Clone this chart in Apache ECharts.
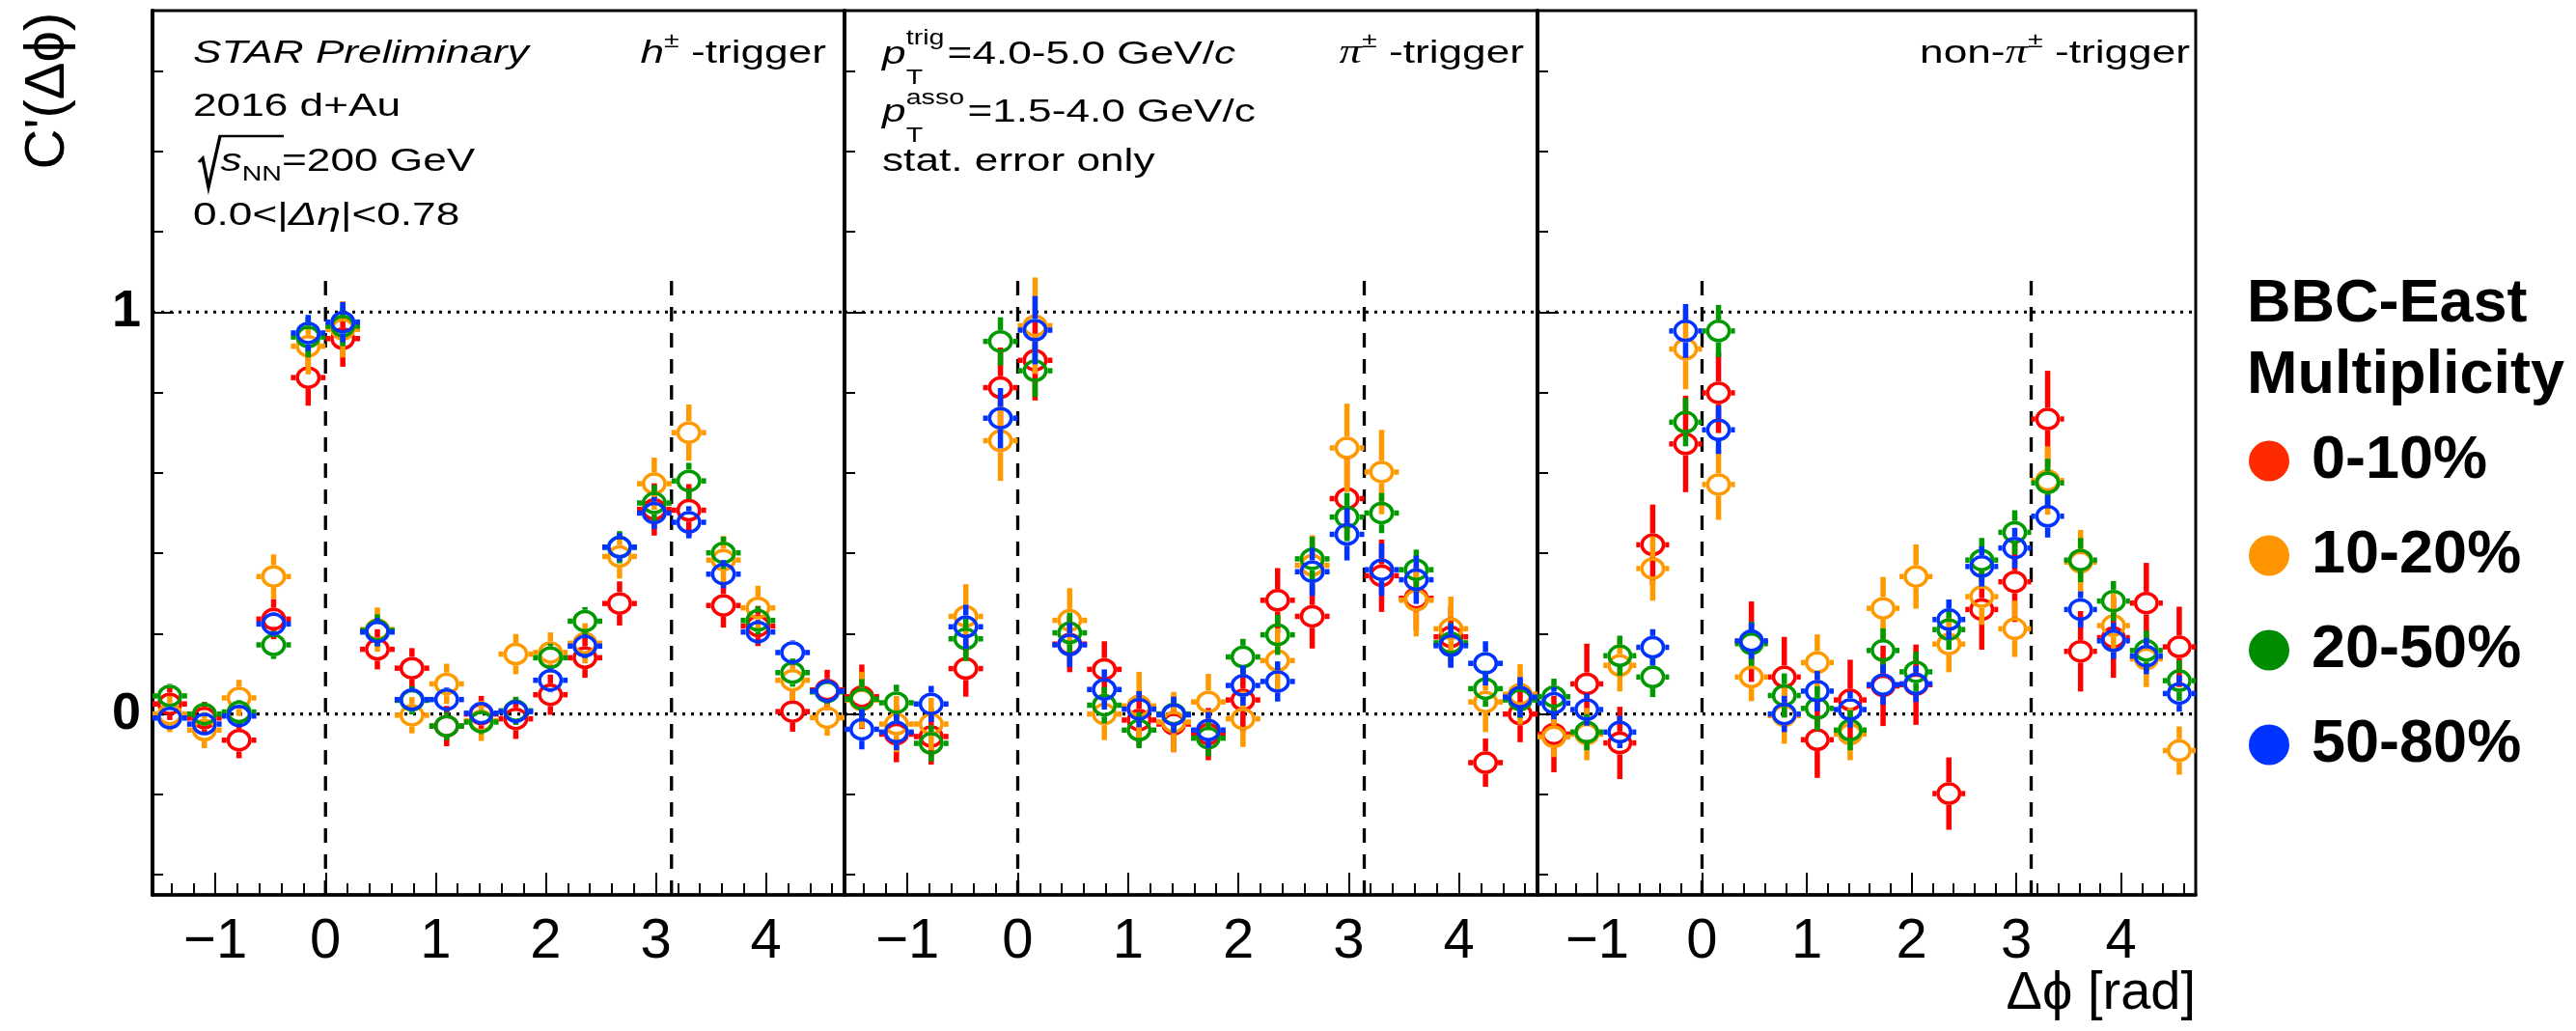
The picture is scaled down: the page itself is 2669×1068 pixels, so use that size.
<!DOCTYPE html>
<html><head><meta charset="utf-8">
<script src="https://cdn.jsdelivr.net/npm/echarts@6/dist/echarts.min.js"></script>
<style>html,body{margin:0;padding:0;background:#fff}#c{width:2669px;height:1068px}</style>
</head><body><div id="c"></div>
<script>
// ---------- data ----------
const phiBins = [-1.414,-1.100,-0.785,-0.471,-0.157,0.157,0.471,0.785,1.100,1.414,1.728,2.042,2.356,2.670,2.985,3.299,3.613,3.927,4.241,4.555];
const binHalfWidth = 0.157;
const classes = ['0-10%','10-20%','20-50%','50-80%'];

// panel 1 : h± trigger
const hRed    = [0.025,-0.010,-0.065,0.236,0.837,0.934,0.161,0.114,-0.030,0.000,-0.012,0.048,0.140,0.275,0.509,0.507,0.270,0.219,0.006,0.060];
const hRedErr = [0.040,0.040,0.045,0.050,0.070,0.070,0.050,0.050,0.050,0.045,0.050,0.050,0.050,0.055,0.065,0.065,0.055,0.050,0.050,0.050];
const hOra    = [0.000,-0.040,0.040,0.342,0.915,0.957,0.210,-0.003,0.075,-0.017,0.149,0.153,0.176,0.392,0.573,0.700,0.383,0.264,0.084,-0.009];
const hOraErr = [0.045,0.045,0.045,0.055,0.070,0.070,0.055,0.045,0.050,0.050,0.050,0.050,0.050,0.055,0.065,0.070,0.060,0.055,0.050,0.045];
const hGre    = [0.045,0.000,0.005,0.172,0.938,0.965,0.208,0.034,-0.030,-0.020,0.008,0.140,0.231,0.415,0.525,0.580,0.401,0.233,0.103,0.055];
const hGreErr = [0.030,0.030,0.030,0.035,0.050,0.050,0.040,0.035,0.035,0.030,0.035,0.035,0.035,0.040,0.045,0.045,0.040,0.035,0.035,0.030];
const hBlu    = [-0.010,-0.025,-0.005,0.224,0.948,0.975,0.204,0.036,0.036,0.002,0.006,0.084,0.169,0.415,0.500,0.477,0.348,0.204,0.153,0.057];
const hBluErr = [0.025,0.025,0.025,0.030,0.045,0.050,0.035,0.030,0.030,0.025,0.030,0.030,0.030,0.035,0.040,0.040,0.035,0.030,0.030,0.030];

// panel 2 : π± trigger
const piRed    = [0.043,-0.050,-0.056,0.113,0.812,0.880,0.174,0.111,-0.015,-0.025,-0.050,0.035,0.283,0.243,0.536,0.344,0.288,0.192,-0.121,0.000];
const piRedErr = [0.080,0.070,0.070,0.070,0.100,0.100,0.070,0.070,0.065,0.070,0.065,0.080,0.080,0.080,0.100,0.090,0.080,0.075,0.060,0.070];
const piOra    = [0.035,-0.025,-0.025,0.243,0.680,0.966,0.233,0.000,0.020,-0.020,0.030,-0.012,0.133,0.370,0.662,0.602,0.283,0.212,0.030,0.049];
const piOraErr = [0.070,0.070,0.065,0.080,0.100,0.120,0.080,0.065,0.085,0.075,0.070,0.070,0.080,0.075,0.110,0.105,0.090,0.080,0.075,0.075];
const piGre    = [0.037,0.028,-0.073,0.187,0.927,0.854,0.202,0.022,-0.040,0.000,-0.060,0.142,0.197,0.386,0.490,0.500,0.359,0.177,0.063,0.035];
const piGreErr = [0.050,0.045,0.045,0.055,0.060,0.065,0.050,0.045,0.045,0.040,0.045,0.045,0.050,0.055,0.060,0.050,0.050,0.050,0.045,0.045];
const piBlu    = [-0.038,-0.045,0.025,0.217,0.736,0.955,0.172,0.061,0.012,-0.002,-0.040,0.071,0.081,0.354,0.447,0.359,0.334,0.170,0.126,0.042];
const piBluErr = [0.050,0.045,0.045,0.055,0.075,0.085,0.055,0.050,0.045,0.045,0.045,0.050,0.050,0.060,0.065,0.065,0.060,0.055,0.055,0.050];

// panel 3 : non-π± trigger
const npRed    = [-0.050,0.075,-0.072,0.421,0.672,0.799,0.180,0.092,-0.064,0.035,0.070,0.073,-0.198,0.260,0.329,0.734,0.156,0.190,0.276,0.167];
const npRedErr = [0.095,0.100,0.090,0.100,0.120,0.100,0.100,0.100,0.095,0.100,0.100,0.100,0.090,0.100,0.100,0.120,0.100,0.100,0.100,0.100];
const npOra    = [-0.057,-0.050,0.121,0.362,0.908,0.571,0.092,-0.004,0.128,-0.050,0.263,0.342,0.174,0.292,0.212,0.581,0.378,0.220,0.137,-0.091];
const npOraErr = [0.050,0.065,0.065,0.080,0.100,0.088,0.060,0.070,0.070,0.065,0.078,0.080,0.070,0.070,0.070,0.085,0.080,0.080,0.070,0.060];
const npGre    = [0.043,-0.045,0.145,0.092,0.726,0.953,0.175,0.046,0.014,-0.040,0.158,0.105,0.210,0.383,0.452,0.575,0.383,0.281,0.158,0.083];
const npGreErr = [0.045,0.045,0.050,0.050,0.060,0.065,0.055,0.055,0.055,0.050,0.055,0.050,0.050,0.055,0.055,0.060,0.055,0.050,0.050,0.050];
const npBlu    = [0.027,0.011,-0.045,0.166,0.953,0.707,0.182,0.000,0.057,0.011,0.073,0.075,0.235,0.367,0.413,0.492,0.260,0.182,0.144,0.051];
const npBluErr = [0.040,0.040,0.040,0.045,0.067,0.060,0.045,0.045,0.050,0.045,0.050,0.045,0.050,0.050,0.050,0.053,0.045,0.045,0.045,0.045];

// axes
const phiMin = -1.5708, phiMax = 4.7124;
const yMin = -0.45, yMax = 1.75;
const xMajor = [-1,0,1,2,3,4];
const xMinor = [-1.4,-1.2,-0.8,-0.6,-0.4,-0.2,0.2,0.4,0.6,0.8,1.2,1.4,1.6,1.8,2.2,2.4,2.6,2.8,3.2,3.4,3.6,3.8,4.2,4.4,4.6];
const yMajor = [0,1];
const yMinor = [-0.4,-0.2,0.2,0.4,0.6,0.8,1.2,1.4,1.6];
const refY = [0,1];
const refX = [0,3.1416];
const dashTop = 1.1;

// ---------- style ----------
const F = 'Liberation Sans';
const colors = ['#ff0000','#ff9900','#009900','#0033ff'];
const legendColors = ['#ff2a00','#ff9500','#008c00','#0033ff'];
const panels = [
  {grid:{left:158, top:11, width:717, height:916}, vals:[hRed,hOra,hGre,hBlu], errs:[hRedErr,hOraErr,hGreErr,hBluErr]},
  {grid:{left:875, top:11, width:718, height:916}, vals:[piRed,piOra,piGre,piBlu], errs:[piRedErr,piOraErr,piGreErr,piBluErr]},
  {grid:{left:1593, top:11, width:682, height:916}, vals:[npRed,npOra,npGre,npBlu], errs:[npRedErr,npOraErr,npGreErr,npBluErr]}
];

function renderPoint(params, api){
  const x = api.value(0), y = api.value(1), e = api.value(2);
  const c = api.coord([x, y]);
  const yTop = api.coord([x, y + e])[1];
  const yBot = api.coord([x, y - e])[1];
  const xL = api.coord([x - binHalfWidth, y])[0];
  const xR = api.coord([x + binHalfWidth, y])[0];
  const color = api.visual('color');
  const rx = 11.2, ry = 10, lw = 3.5, bw = 5.5;
  const ox = rx + lw/2, oy = ry + lw/2;
  const seg = (x1,y1,x2,y2)=>({type:'line', shape:{x1,y1,x2,y2}, style:{stroke:color, lineWidth:bw, lineCap:'butt'}});
  const ch = [];
  if (c[1]-yTop > oy) ch.push(seg(c[0], c[1]-oy, c[0], yTop));
  if (yBot-c[1] > oy) ch.push(seg(c[0], c[1]+oy, c[0], yBot));
  ch.push(seg(xL, c[1], c[0]-ox, c[1]));
  ch.push(seg(c[0]+ox, c[1], xR, c[1]));
  ch.push({type:'ellipse', shape:{cx:c[0], cy:c[1], rx:rx, ry:ry}, style:{fill:'none', stroke:color, lineWidth:lw}});
  return {type:'group', children:ch};
}

const grid = [], xAxis = [], yAxis = [], series = [];
const fmtX = v => v < 0 ? '\u2212' + (-v) : String(v);
panels.forEach((p, pi) => {
  grid.push(Object.assign({show:true, borderColor:'#000', borderWidth:3, backgroundColor:'transparent'}, p.grid));
  xAxis.push({gridIndex:pi, type:'value', min:phiMin, max:phiMax, position:'bottom',
    axisLine:{show:true, onZero:false, lineStyle:{color:'#000', width:3.5}},
    axisTick:{show:true, inside:true, length:23, customValues:xMajor, lineStyle:{color:'#000', width:2}},
    axisLabel:{show:true, customValues:xMajor, formatter:fmtX, fontSize:58, fontFamily:F, color:'#000', margin:20},
    splitLine:{show:false}});
  xAxis.push({gridIndex:pi, type:'value', min:phiMin, max:phiMax, position:'bottom',
    axisLine:{show:false, onZero:false},
    axisTick:{show:true, inside:true, length:12, customValues:xMinor, lineStyle:{color:'#000', width:2}},
    axisLabel:{show:false}, splitLine:{show:false}});
  yAxis.push({gridIndex:pi, type:'value', min:yMin, max:yMax, position:'left',
    axisLine:{show:true, onZero:false, lineStyle:{color:'#000', width:4}},
    axisTick:{show:true, inside:true, length:22, customValues:yMajor, lineStyle:{color:'#000', width:2}},
    axisLabel:{show:pi===0, customValues:yMajor, fontSize:54, fontWeight:'bold', fontFamily:F, color:'#000', margin:12},
    splitLine:{show:false}});
  yAxis.push({gridIndex:pi, type:'value', min:yMin, max:yMax, position:'left',
    axisLine:{show:false, onZero:false},
    axisTick:{show:true, inside:true, length:11, customValues:yMinor, lineStyle:{color:'#000', width:2}},
    axisLabel:{show:false}, splitLine:{show:false}});
  refY.forEach(v => series.push({type:'line', xAxisIndex:pi*2, yAxisIndex:pi*2, silent:true, symbol:'none', z:1,
    data:[[phiMin, v],[phiMax, v]], lineStyle:{color:'#000', width:3.2, type:[3,6]}}));
  refX.forEach(v => series.push({type:'line', xAxisIndex:pi*2, yAxisIndex:pi*2, silent:true, symbol:'none', z:1,
    data:[[v, yMin],[v, dashTop]], lineStyle:{color:'#000', width:3.3, type:[15,12]}}));
  classes.forEach((name, k) => {
    series.push({type:'custom', name:name, xAxisIndex:pi*2, yAxisIndex:pi*2, z:3+k,
      itemStyle:{color:colors[k]}, renderItem:renderPoint, encode:{x:0, y:1},
      data: phiBins.map((x, i) => [x, p.vals[k][i], p.errs[k][i]])});
  });
});

// ---------- text ----------
const rich = {
  n:{fontSize:34, fontFamily:F, lineHeight:48, fill:'#000'},
  i:{fontSize:34, fontFamily:F, fontStyle:'italic', lineHeight:48, fill:'#000'},
  sub:{fontSize:22, fontFamily:F, lineHeight:22, verticalAlign:'bottom', fill:'#000'},
  sup:{fontSize:22, fontFamily:F, lineHeight:32, verticalAlign:'top', fill:'#000'},
  pi:{fontSize:36, fontFamily:'Liberation Serif', fontStyle:'italic', lineHeight:48, fill:'#000'}
};
const SX = 1.3;
function tline(x, y, text, align){
  return {type:'group', x:x, y:y, scaleX:SX, children:[
    {type:'text', style:{text:text, rich:rich, fontSize:34, fontFamily:F, fill:'#000', align:align||'left', verticalAlign:'middle'}}]};
}
function small(x, y, text){
  return {type:'text', x:x, y:y, style:{text:text, fontSize:22, fontFamily:F, fill:'#000', align:'left', verticalAlign:'middle'}};
}
const graphic = [
  tline(200, 56, '{i|STAR Preliminary}'),
  tline(200, 111, '{n|2016 d+Au}'),
  {type:'group', x:200, y:168, scaleX:SX, children:[
    {type:'polyline', shape:{points:[[4.6,0],[7.7,-4],[12.3,26],[21.5,-27],[72.3,-27]]}, style:{stroke:'#000', lineWidth:2.6, fill:'none'}},
    {type:'text', x:22, style:{text:'{i|s}{sub|NN}{n|=200 GeV}', rich:rich, align:'left', verticalAlign:'middle'}}]},
  tline(200, 224, '{n|0.0<|}{i|\u0394\u03b7}{n||<0.78}'),
  tline(856, 56, '{i|h}{sup|\u00b1}{n| -trigger}', 'right'),
  {type:'group', x:914, y:57, scaleX:SX, children:[
    {type:'text', style:{text:'p', fontSize:34, fontFamily:F, fontStyle:'italic', fill:'#000', align:'left', verticalAlign:'middle'}},
    small(19, -17, 'trig'), small(19, 24, 'T'),
    {type:'text', x:52, style:{text:'{n|=4.0-5.0 GeV/}{i|c}', rich:rich, align:'left', verticalAlign:'middle'}}]},
  {type:'group', x:914, y:117, scaleX:SX, children:[
    {type:'text', style:{text:'p', fontSize:34, fontFamily:F, fontStyle:'italic', fill:'#000', align:'left', verticalAlign:'middle'}},
    small(19, -15, 'asso'), small(19, 24, 'T'),
    {type:'text', x:68, style:{text:'{n|=1.5-4.0 GeV/c}', rich:rich, align:'left', verticalAlign:'middle'}}]},
  tline(914, 168, '{n|stat. error only}'),
  tline(1579, 56, '{pi|\u03c0}{sup|\u00b1}{n| -trigger}', 'right'),
  tline(2269, 56, '{n|non-}{pi|\u03c0}{sup|\u00b1}{n| -trigger}', 'right'),
  {type:'text', x:50, y:94, rotation:Math.PI/2, style:{text:"C'(\u0394\u03d5)", fontSize:58, fontFamily:F, fill:'#000', align:'center', verticalAlign:'middle'}},
  {type:'text', x:2275, y:1030, style:{text:'\u0394\u03d5 [rad]', fontSize:56, fontFamily:F, fill:'#000', align:'right', verticalAlign:'middle'}},
  {type:'text', x:2328, y:316, style:{text:'BBC-East', fontSize:63, fontWeight:'bold', fontFamily:F, fill:'#000', align:'left', verticalAlign:'middle'}},
  {type:'text', x:2328, y:390, style:{text:'Multiplicity', fontSize:63, fontWeight:'bold', fontFamily:F, fill:'#000', align:'left', verticalAlign:'middle'}}
];

const chart = echarts.init(document.getElementById('c'), null, {renderer:'canvas'});
chart.setOption({
  animation:false,
  backgroundColor:'#fff',
  grid, xAxis, yAxis, series, graphic,
  legend:{orient:'vertical', left:2330, top:446, padding:0, icon:'circle', itemWidth:42, itemHeight:42, itemGap:35,
    selectedMode:false,
    data:classes.map((n,i)=>({name:n, itemStyle:{color:legendColors[i]}})),
    textStyle:{fontSize:63, fontWeight:'bold', fontFamily:F, color:'#000', lineHeight:63, padding:[0,0,0,18]}}
});
</script>
</body></html>
